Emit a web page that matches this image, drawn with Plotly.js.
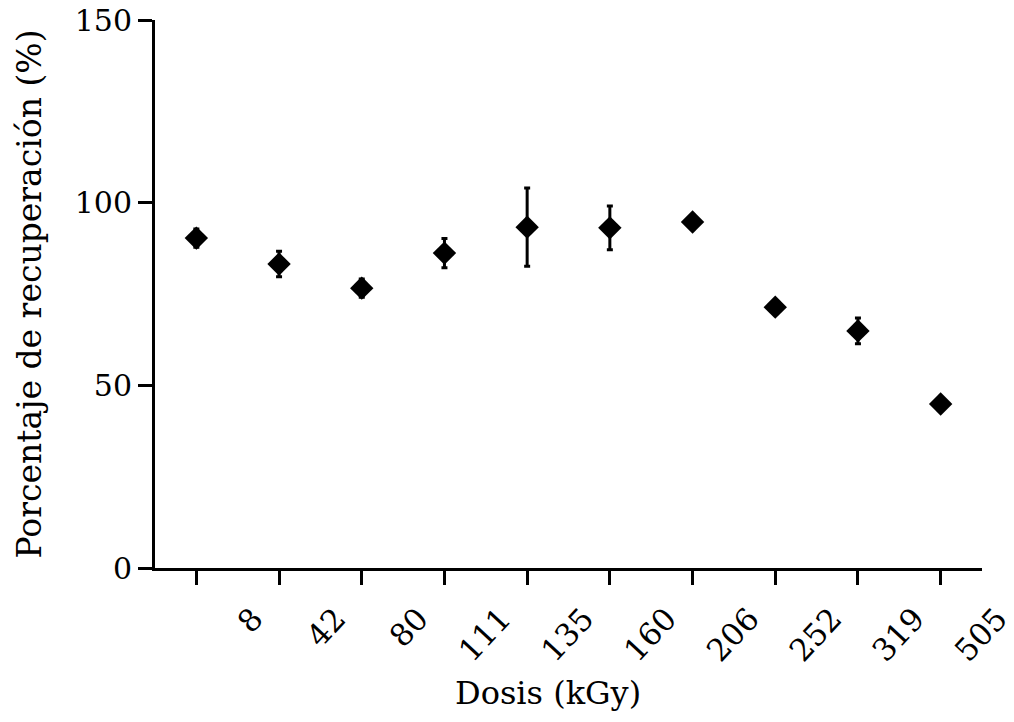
<!DOCTYPE html>
<html>
<head>
<meta charset="utf-8">
<script src="https://cdn.plot.ly/plotly-3.0.1.min.js"></script>
<style>html,body{margin:0;padding:0;background:#fff;}#chart{width:1014px;height:722px;}</style>
</head>
<body>
<div id="chart"></div>
<script>
const doses = ['8', '42', '80', '111', '135', '160', '206', '252', '319', '505'];
const recovery = [90.3, 83.2, 76.6, 86.2, 93.3, 93.1, 94.7, 71.4, 64.9, 44.9];
const errorSD = [2.5, 3.5, 2.5, 4.0, 10.7, 6.0, 1.5, 1.5, 3.5, 1.5];
const yTicks = [0, 50, 100, 150];
const xTitle = 'Dosis (kGy)';
const yTitle = 'Porcentaje de recuperación (%)';

const FONT = 'DejaVu Serif';

const trace = {
  x: doses,
  y: recovery,
  type: 'scatter',
  mode: 'markers',
  marker: {symbol: 'diamond', size: 18, color: '#000'},
  error_y: {type: 'data', array: errorSD, visible: true, color: '#000', thickness: 3, width: 3},
  showlegend: false,
  hoverinfo: 'x+y'
};

const layout = {
  width: 1014, height: 722,
  margin: {l: 155, r: 32, t: 20, b: 154},
  paper_bgcolor: '#fff', plot_bgcolor: '#fff',
  font: {family: FONT, color: '#000'},
  xaxis: {
    type: 'category',
    range: [-0.5, 9.5],
    showline: true, linewidth: 3, linecolor: '#000',
    ticks: 'outside', ticklen: 14, tickwidth: 3, tickcolor: '#000',
    showgrid: false, zeroline: false,
    tickangle: -47,
    ticklabelshift: 57,
    ticklabelstandoff: 3,
    tickfont: {family: FONT, size: 31, color: '#000'}
  },
  yaxis: {
    range: [0, 150],
    tickvals: yTicks,
    ticktext: yTicks.map(String),
    showline: true, linewidth: 3, linecolor: '#000',
    ticks: 'outside', ticklen: 14, tickwidth: 3, tickcolor: '#000',
    showgrid: false, zeroline: false,
    tickfont: {family: FONT, size: 30, color: '#000'},
    title: {text: yTitle, font: {family: FONT, size: 33, color: '#000'}, standoff: 24}
  },
  annotations: [{
    text: xTitle,
    xref: 'paper', yref: 'paper',
    x: 0.475, y: -0.228,
    xanchor: 'center', yanchor: 'middle',
    showarrow: false,
    font: {family: FONT, size: 32, color: '#000'}
  }]
};

Plotly.newPlot('chart', [trace], layout, {displayModeBar: false, staticPlot: true});
</script>
</body>
</html>
